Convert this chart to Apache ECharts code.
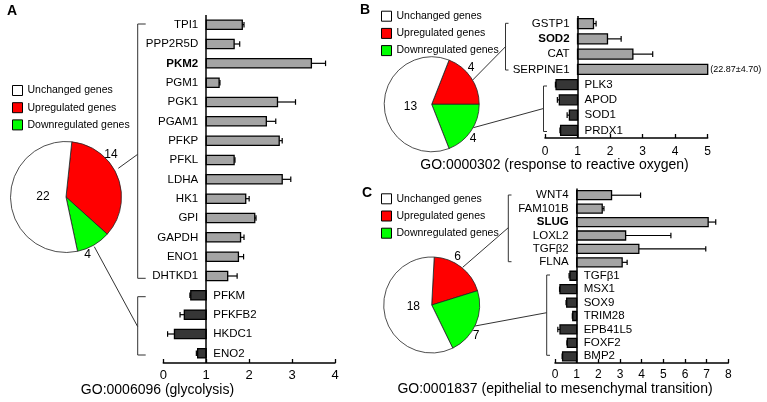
<!DOCTYPE html>
<html><head><meta charset="utf-8">
<script src="https://cdn.jsdelivr.net/npm/echarts@6/dist/echarts.min.js"></script>
<style>html,body{margin:0;padding:0;background:#fff}#c{width:767px;height:402px}</style>
</head><body><div id="c"></div>
<script>
// ---- Panel A: GO:0006096 (glycolysis)
const genesA = ['TPI1','PPP2R5D','PKM2','PGM1','PGK1','PGAM1','PFKP','PFKL','LDHA','HK1','GPI','GAPDH','ENO1','DHTKD1','PFKM','PFKFB2','HKDC1','ENO2'];
const foldA  = [1.84,1.65,3.45,1.30,2.66,2.40,2.70,1.65,2.77,1.92,2.13,1.80,1.75,1.50,0.64,0.49,0.26,0.80];
const errA   = [0.04,0.13,0.33,0.02,0.42,0.22,0.07,0.02,0.20,0.08,0.03,0.08,0.12,0.22,0.02,0.10,0.16,0.03];
const ticksA = [0,1,2,3,4];
const pieA   = [14, 4, 22];
const titleA = 'GO:0006096 (glycolysis)';

// ---- Panel B: GO:0000302 (response to reactive oxygen)
const genesB = ['GSTP1','SOD2','CAT','SERPINE1','PLK3','APOD','SOD1','PRDX1'];
const foldB  = [1.49,1.92,2.70,22.87,0.34,0.44,0.75,0.48];
const errB   = [0.08,0.42,0.61,4.70,0.02,0.06,0.07,0.02];
const ticksB = [0,1,2,3,4,5];
const pieB   = [4, 4, 13];
const titleB = 'GO:0000302 (response to reactive oxygen)';

// ---- Panel C: GO:0001837 (epithelial to mesenchymal transition)
const genesC = ['WNT4','FAM101B','SLUG','LOXL2','TGFβ2','FLNA','TGFβ1','MSX1','SOX9','TRIM28','EPB41L5','FOXF2','BMP2'];
const foldC  = [2.61,2.18,7.07,3.26,3.87,3.10,0.69,0.23,0.54,0.82,0.23,0.57,0.35];
const errC   = [1.34,0.08,0.35,2.09,3.09,0.23,0.04,0.02,0.03,0.02,0.10,0.02,0.02];
const ticksC = [0,1,2,3,4,5,6,7,8];
const pieC   = [6, 7, 18];
const titleC = 'GO:0001837 (epithelial to mesenchymal transition)';

const pieNames    = ['Upregulated genes','Downregulated genes','Unchanged genes'];
const pieColors   = ['#ff0000','#00ff00','#ffffff'];
const legendNames = ['Unchanged genes','Upregulated genes','Downregulated genes'];
const boldGenes   = ['PKM2','SOD2','SLUG'];
const panelLetters = ['A','B','C'];

const FONT = '"Liberation Sans", Arial, Helvetica, sans-serif';

function makeRender(genes, axisMax, ratio) {
  return function (params, api) {
    const v = api.value(0), idx = api.value(1), e = api.value(2);
    const band = api.size([0, 1])[1];
    const h = band * ratio;
    const base = api.coord([1, idx]);
    const clipped = v > axisMax;
    const end = api.coord([Math.min(v, axisMax), idx]);
    const up = v >= 1;
    const y = base[1];
    const kids = [];
    kids.push({type:'rect', shape:{x:Math.min(base[0],end[0]), y:y-h/2, width:Math.abs(end[0]-base[0]), height:h},
      style:{fill: up ? '#a4a4a4' : '#363636', stroke:'#000', lineWidth:1.3}});
    if (!clipped) {
      const ep = api.coord([up ? v + e : v - e, idx]);
      kids.push({type:'line', shape:{x1:end[0], y1:y, x2:ep[0], y2:y}, style:{stroke:'#000', lineWidth:1.2}});
      kids.push({type:'line', shape:{x1:ep[0], y1:y-h*0.3, x2:ep[0], y2:y+h*0.3}, style:{stroke:'#000', lineWidth:1.2}});
    } else {
      kids.push({type:'text', style:{text:'(' + v.toFixed(2) + '±' + e.toFixed(2) + ')', x:end[0]+2.5, y:y,
        align:'left', verticalAlign:'middle', textAlign:'left', textVerticalAlign:'middle',
        fontSize:9, fontFamily:FONT, fill:'#000'}});
    }
    const name = genes[idx];
    kids.push({type:'text', style:{text:name, x: up ? base[0]-8 : base[0]+7, y:y,
      align: up ? 'right' : 'left', verticalAlign:'middle', textAlign: up ? 'right' : 'left', textVerticalAlign:'middle',
      fontSize:11.5, fontFamily:FONT, fontWeight: boldGenes.includes(name) ? 'bold' : 'normal', fill:'#000'}});
    return {type:'group', children:kids};
  };
}

function xAxisDef(gi, ticks, fs, margin) {
  return {type:'value', gridIndex:gi, min:ticks[0], max:ticks[ticks.length-1], interval:ticks[1]-ticks[0],
    splitLine:{show:false},
    axisLine:{show:true, onZero:false, lineStyle:{color:'#000', width:1.5}},
    axisTick:{show:true, inside:true, length:4, lineStyle:{color:'#000', width:1.3}},
    axisLabel:{color:'#000', fontSize:fs, fontFamily:FONT, margin:margin}};
}
function yAxisDef(gi, genes) {
  return {type:'category', gridIndex:gi, data:genes, inverse:true, show:false};
}
function barSeries(gi, genes, fold, err, ticks, ratio) {
  return {type:'custom', xAxisIndex:gi, yAxisIndex:gi, clip:false, silent:true,
    renderItem: makeRender(genes, ticks[ticks.length-1], ratio),
    encode:{x:0, y:1},
    data: fold.map((v,i) => [v, i, err[i]]),
    markLine:{silent:true, symbol:'none', label:{show:false}, animation:false,
      lineStyle:{color:'#000', width:1.5, type:'solid'}, data:[{xAxis:1}]}};
}
function pieSeries(center, r, counts, startAngle) {
  return {type:'pie', center:center, radius:r, startAngle:startAngle, clockwise:true, silent:true, z:1,
    label:{show:false}, labelLine:{show:false}, emphasis:{scale:false},
    itemStyle:{borderColor:'#222', borderWidth:0.8},
    data: counts.map((c,i) => ({name:pieNames[i], value:c, itemStyle:{color:pieColors[i]}}))};
}
function legendDef(left, top) {
  return {orient:'vertical', left:left, top:top, itemWidth:10, itemHeight:10, itemGap:6.2, icon:'rect',
    selectedMode:false, data:legendNames, padding:0,
    itemStyle:{borderColor:'#000', borderWidth:1},
    textStyle:{fontSize:10.5, color:'#000', fontFamily:FONT, lineHeight:10}};
}
function txt(t, x, y, fs, bold) {
  return {type:'text', x:x, y:y, z:100, silent:true, style:{text:String(t), fontSize:fs, fontFamily:FONT,
    fontWeight: bold ? 'bold' : 'normal', fill:'#000',
    align:'center', verticalAlign:'middle', textAlign:'center', textVerticalAlign:'middle'}};
}
const ls = {stroke:'#333', lineWidth:1, fill:null};
function pl(points) { return {type:'polyline', z:100, silent:true, shape:{points:points}, style:ls}; }
function ln(x1,y1,x2,y2) { return {type:'line', z:100, silent:true, shape:{x1:x1,y1:y1,x2:x2,y2:y2}, style:ls}; }

const sum = a => a.reduce((s, x) => s + x, 0);
const pA = pieSeries([66,197], 55.5, pieA, 84);
const pB = pieSeries([431.7,104.3], 47.5, pieB, 360 * pieB[0] / sum(pieB));
const pC = pieSeries([431.7,305], 48, pieC, 87);

const option = {
  animation:false,
  backgroundColor:'#fff',
  grid:[
    {left:163.3, top:15, width:171.7, height:348, outerBoundsMode:'none'},
    {left:545, top:16, width:162.7, height:122, outerBoundsMode:'none'},
    {left:555, top:188.5, width:173.3, height:174.5, outerBoundsMode:'none'}
  ],
  xAxis:[xAxisDef(0, ticksA, 13, 6), xAxisDef(1, ticksB, 12, 8), xAxisDef(2, ticksC, 12, 6)],
  yAxis:[yAxisDef(0, genesA), yAxisDef(1, genesB), yAxisDef(2, genesC)],
  legend:[legendDef(12, 85), legendDef(381, 10.7), legendDef(381, 193.3)],
  series:[
    barSeries(0, genesA, foldA, errA, ticksA, 0.48),
    barSeries(1, genesB, foldB, errB, ticksB, 0.65),
    barSeries(2, genesC, foldC, errC, ticksC, 0.67),
    pA, pB, pC
  ],
  graphic:{z:100, elements:[
    // brackets and connectors
    pl([[145.7,24],[137.7,24],[137.7,278.3],[145.7,278.3]]),
    pl([[145.7,296.7],[137.7,296.7],[137.7,355],[145.7,355]]),
    ln(118.3,168.3,137.7,154.3),
    ln(94.3,246.7,137.7,326.7),
    pl([[508.5,23.3],[505.5,23.3],[505.5,70],[508.5,70]]),
    pl([[547,86],[543.5,86],[543.5,131.5],[547,131.5]]),
    ln(472.7,80,505.5,46.7),
    ln(473.3,127.7,543.5,108.5),
    pl([[511.5,195],[508.3,195],[508.3,261.7],[511.5,261.7]]),
    pl([[550,275],[546.7,275],[546.7,355.3],[550,355.3]]),
    ln(462.7,267.3,508.3,227.7),
    ln(475,326,546.7,312.7),
    // pie counts
    txt(pieA[0],111,154.5,12), txt(pieA[2],43,196.7,12), txt(pieA[1],87.5,254.5,12),
    txt(pieB[0],471,68,12), txt(pieB[2],410.5,106.8,12), txt(pieB[1],473,139,12),
    txt(pieC[0],457.5,257,12), txt(pieC[2],413.3,307,12), txt(pieC[1],476,336,12),
    // titles
    txt(titleA,157.5,390,14), txt(titleB,554.5,165,14), txt(titleC,555,389,14),
    // panel letters
    txt(panelLetters[0],12,11.5,14,true), txt(panelLetters[1],365,10,14,true), txt(panelLetters[2],367,193,14,true)
  ]}
};
const chart = echarts.init(document.getElementById('c'), null, {renderer:'canvas'});
chart.setOption(option);
</script>
</body></html>
